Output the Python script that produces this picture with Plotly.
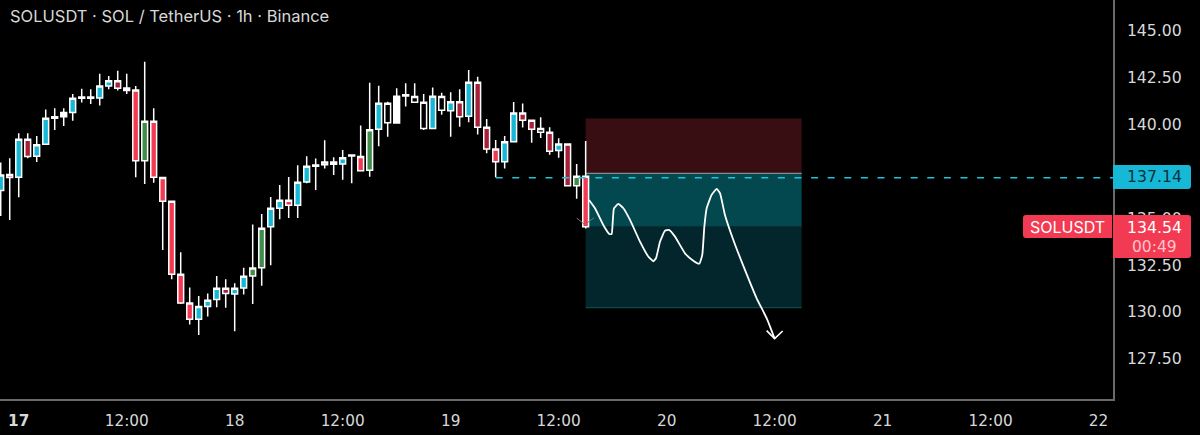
import plotly.graph_objects as go

FONT = "Inter"
NUM_FONT = "DejaVu Sans"
hours = list(range(-2, 64))
high = [137.95,138.18,139.51,139.51,139.37,140.78,140.84,140.84,141.60,141.88,141.85,142.68,142.56,142.84,142.68,142.03,143.32,140.84,
        137.20,135.93,133.18,131.30,130.85,130.98,131.92,131.74,131.53,132.36,134.65,135.22,136.12,136.76,137.18,137.81,138.28,138.16,
        139.14,138.23,138.62,138.37,139.92,142.20,142.04,141.19,141.90,142.17,142.17,141.60,141.94,141.67,141.69,141.85,142.88,142.52,
        140.27,139.15,139.37,141.17,141.09,140.22,140.36,139.83,139.24,138.96,137.88,139.10]
body_top = [137.29,137.31,139.19,139.19,138.90,140.31,140.39,140.62,141.37,141.44,141.44,142.03,142.31,142.31,141.92,141.81,140.15,140.15,
            137.15,135.89,132.01,130.48,130.29,130.62,131.26,131.26,131.26,131.90,132.34,134.45,135.52,135.94,135.94,136.90,137.75,137.82,
            137.98,137.98,138.21,138.35,138.27,139.70,141.10,141.10,141.48,141.56,141.46,141.16,141.48,141.46,141.19,141.19,142.22,142.22,
            139.83,138.67,139.06,140.59,140.59,140.20,139.76,139.56,138.94,138.94,137.22,137.22]
body_bottom = [136.46,137.15,137.17,138.27,138.28,138.92,140.31,140.39,140.61,141.37,141.37,141.39,142.03,141.90,141.78,138.05,138.05,137.17,
               135.89,132.01,130.48,129.61,129.61,130.29,130.66,130.98,130.96,131.28,131.92,132.36,134.53,135.52,135.68,135.68,136.92,137.75,
               137.84,137.86,137.88,138.30,137.52,137.54,139.72,140.07,140.06,141.49,141.16,139.76,139.76,140.73,140.71,140.39,140.41,139.83,
               138.67,138.00,138.00,139.06,140.20,139.72,139.56,138.55,138.59,136.72,136.72,134.54]
low = [135.11,134.90,136.10,138.18,137.98,138.90,139.68,139.90,140.18,141.14,141.07,140.98,141.85,141.78,141.60,137.17,136.81,136.88,
       133.30,131.74,130.43,129.33,128.78,129.76,130.25,130.22,128.98,130.93,130.43,131.39,132.49,134.93,135.00,135.00,136.85,136.49,
       137.63,137.29,137.03,136.85,137.52,137.20,138.82,139.33,140.06,140.93,141.16,139.68,139.74,140.50,139.33,139.86,140.09,139.45,
       138.44,137.17,137.63,139.03,139.81,139.01,139.26,138.37,138.21,136.70,136.03,134.44]
kind = ["c","r","c","d","c","c","w","w","c","w","w","c","c","d","w","r","g","r",
        "r","r","r","r","c","c","c","d","c","c","g","g","c","c","r","c","c","w",
        "c","w","c","w","r","g","c","h","w","w","h","h","c","h","c","d","c","d",
        "d","r","c","c","d","d","h","d","c","d","g","r"]
kind_colors = {"c": "#17b7d6", "r": "#f23b52", "d": "#a81f38", "g": "#3f8c4b", "w": "#ffffff", "h": "#000000"}

sketch_x = [63.37,64.04,64.96,65.63,65.89,66.00,66.15,66.63,67.19,67.93,69.04,69.96,70.52,70.82,71.26,71.82,72.26,72.93,74.04,74.96,75.63,75.96,76.19,76.45,77.00,77.56,77.93,78.48,79.41,80.70,82.00,83.11,84.00]
sketch_y = [135.96,135.52,134.63,134.15,134.15,134.72,135.52,135.75,135.52,134.90,133.74,132.95,132.70,132.86,133.74,134.33,134.37,134.01,133.12,132.73,132.57,133.04,134.54,135.52,136.23,136.55,136.32,135.16,133.83,132.24,130.73,129.67,128.58]
arrow_x = [83.11,84.00,84.89]
arrow_y = [129.01,128.58,128.99]
mark_x = [62.0,62.9,63.9]
mark_y = [135.0,134.65,135.0]

entry_price = 137.38
target_mid = 134.54
stop_price = 140.30
target_price = 130.23
zone_start, zone_end = 63, 87
line_price = 137.14
line_start = 53

y_ticks = [127.5,130,132.5,135,137.5,140,142.5,145]
x_ticks = [0,12,24,36,48,60,72,84,96,108,120]
x_labels = ["<b>17</b>","12:00","18","12:00","19","12:00","20","12:00","21","12:00","22"]

W, H = 1200, 435
PW, PH = 1113, 399
fig = go.Figure()

for k, col in kind_colors.items():
    idx = [i for i, v in enumerate(kind) if v == k]
    style = dict(line=dict(color="#ffffff", width=1.5), fillcolor=col)
    fig.add_trace(go.Candlestick(
        x=[hours[i] for i in idx],
        open=[body_bottom[i] for i in idx],
        close=[body_top[i] for i in idx],
        high=[high[i] for i in idx],
        low=[low[i] for i in idx],
        increasing=style, decreasing=style, whiskerwidth=0,
        showlegend=False, hoverinfo="skip"))

fig.add_trace(go.Scatter(x=[line_start, 121.6], y=[line_price, line_price], mode="lines",
                         line=dict(color="#1fc3de", width=1.5, dash="7px 9.6px"), showlegend=False, hoverinfo="skip"))
fig.add_trace(go.Scatter(x=mark_x, y=mark_y, mode="lines", line=dict(color="#777777", width=1), showlegend=False, hoverinfo="skip"))
fig.add_trace(go.Scatter(x=sketch_x, y=sketch_y, mode="lines", line=dict(color="#ffffff", width=1.8, shape="spline", smoothing=0.4),
                         showlegend=False, hoverinfo="skip"))
fig.add_trace(go.Scatter(x=arrow_x, y=arrow_y, mode="lines", line=dict(color="#ffffff", width=1.6), showlegend=False, hoverinfo="skip"))

shapes = [
    dict(type="rect", layer="below", xref="x", yref="y", x0=zone_start, x1=zone_end, y0=entry_price, y1=stop_price, fillcolor="#380e13", line_width=0),
    dict(type="rect", layer="below", xref="x", yref="y", x0=zone_start, x1=zone_end, y0=target_mid, y1=entry_price, fillcolor="#03474f", line_width=0),
    dict(type="rect", layer="below", xref="x", yref="y", x0=zone_start, x1=zone_end, y0=target_price, y1=target_mid, fillcolor="#03262c", line_width=0),
    dict(type="line", layer="below", xref="x", yref="y", x0=zone_start, x1=zone_end, y0=entry_price, y1=entry_price, line=dict(color="#8a8a8a", width=1.2)),
    dict(type="line", layer="below", xref="x", yref="y", x0=zone_start, x1=zone_end, y0=target_price, y1=target_price, line=dict(color="#0a4a50", width=1.2)),
]

def box(x0, y0, x1, y1, color, rl=False, rr=True, r=3):
    py = lambda v: 1 - v / PH
    X = lambda v: v / PW
    path = f"M {X(x0)+0} {py(y0)} "
    path += f"L {X(x1-(r if rr else 0))} {py(y0)} "
    if rr:
        path += f"Q {X(x1)} {py(y0)} {X(x1)} {py(y0+r)} L {X(x1)} {py(y1-r)} Q {X(x1)} {py(y1)} {X(x1-r)} {py(y1)} "
    else:
        path += f"L {X(x1)} {py(y0)} L {X(x1)} {py(y1)} "
    if rl:
        path += f"L {X(x0+r)} {py(y1)} Q {X(x0)} {py(y1)} {X(x0)} {py(y1-r)} L {X(x0)} {py(y0+r)} Q {X(x0)} {py(y0)} {X(x0+r)} {py(y0)} Z"
    else:
        path += f"L {X(x0)} {py(y1)} Z"
    return dict(type="path", layer="above", xref="paper", yref="paper", path=path, fillcolor=color, line_width=0)

shapes += [box(1113, 165, 1191, 189, "#17b7d6"),
           box(1113, 215, 1191, 258, "#f23b52"),
           box(1023, 215, 1112, 238, "#f23b52", rl=True, rr=False)]

def label(x, y, text, color="#ffffff", size=16, xanchor="center", family=FONT):
    return dict(xref="paper", yref="paper", x=x / PW, y=1 - y / PH, text=text, showarrow=False,
                xanchor=xanchor, yanchor="middle", font=dict(family=family, size=size, color=color))

annotations = [
    label(8, 16, "SOLUSDT · SOL / TetherUS · 1h · Binance", "#d8d8d8", 16.5, "left"),
    label(1154, 177, "137.14", "#06343f", 15.7, family=NUM_FONT),
    label(1154, 227, "134.54", "#ffffff", 15.7, family=NUM_FONT),
    label(1154, 247, "00:49", "#ffc4cb", 15.5, family=NUM_FONT),
    label(1067, 227, "SOLUSDT", "#ffffff", 16),
]

fig.update_layout(
    width=W, height=H, autosize=False,
    margin=dict(l=0, r=W - PW, t=0, b=H - PH, pad=0, autoexpand=False),
    paper_bgcolor="#000000", plot_bgcolor="#000000",
    showlegend=False, boxgap=0.35, boxgroupgap=0.0,
    shapes=shapes, annotations=annotations,
    xaxis=dict(range=[-2.08, 121.6], tickvals=x_ticks, ticktext=x_labels, showgrid=False, zeroline=False,
               rangeslider=dict(visible=False), showline=True, linecolor="#6a6a6a", linewidth=1.5,
               ticks="outside", ticklen=7, tickcolor="#000000", tickfont=dict(family=NUM_FONT, size=15.3, color="#d8d8d8")),
    yaxis=dict(range=[125.37, 146.6], side="right", tickvals=y_ticks, tickformat=".2f", showgrid=False, zeroline=False,
               showline=True, linecolor="#6a6a6a", linewidth=1.5,
               ticks="outside", ticklen=9, tickcolor="#000000", tickfont=dict(family=NUM_FONT, size=15.7, color="#d8d8d8")),
)
fig.write_html("out.html", config={"displayModeBar": False},
               post_script="document.documentElement.style.background='#000';document.body.style.margin='0';document.body.style.background='#000';document.body.style.overflow='hidden';")
